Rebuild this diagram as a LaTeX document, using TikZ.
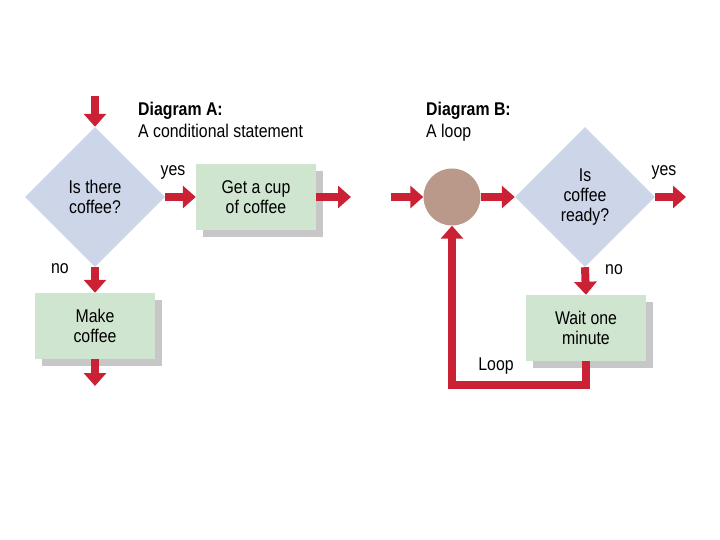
\documentclass[tikz,border=0pt]{standalone}
\usepackage{fontspec}
\setmainfont{Liberation Sans}[FakeStretch=0.86]
\usetikzlibrary{shapes.geometric,arrows.meta,shadows}

\definecolor{askblue}{RGB}{205,213,233}
\definecolor{stepgreen}{RGB}{208,229,207}
\definecolor{loopbrown}{RGB}{187,153,138}
\definecolor{flowred}{RGB}{203,33,52}

\begin{document}
\begin{tikzpicture}[x=1bp,y=-1bp,
    font=\fontsize{18.5}{20}\selectfont,
    ask/.style={diamond,fill=askblue,minimum width=140bp,minimum height=140bp,inner sep=0pt,align=center},
    stepbox/.style={rectangle,fill=stepgreen,minimum width=120bp,minimum height=66bp,align=center,
        drop shadow={shadow xshift=7bp,shadow yshift=-7bp,fill=black!22,opacity=1}},
    flow/.style={draw=flowred,line width=8bp,-{Triangle[width=22bp,length=13bp]}},
    title/.style={anchor=base west,inner sep=0pt,font=\fontsize{18.5}{20}\selectfont\bfseries}]
    \useasboundingbox (0,0) rectangle (720,540);

    % Diagram A
    \node[title] (titleA) at (138,116) {Diagram A:};
    \node[anchor=base west,inner sep=0pt] (subA) at (138,138) {A conditional statement};

    \node[ask] (isthere) at (95,197) {Is there\\coffee?};
    \node[stepbox] (getcup) at (256,197) {Get a cup\\of coffee};
    \node[stepbox] (make) at (95,326) {Make\\coffee};

    \coordinate (inA) at (95,96);
    \coordinate (outA) at (351,197);
    \coordinate (downA) at (95,386);

    \draw[flow] (inA) -- (isthere.north);
    \draw[flow] (isthere.east) -- (getcup.west);
    \draw[flow] (getcup.east) -- (outA);
    \draw[flow] (isthere.south) -- (make.north);
    \draw[flow] (make.south) -- (downA);

    \node (yesA) at (173,172) {yes};
    \node (noA) at (60,269) {no};

    % Diagram B
    \node[title] (titleB) at (426,116) {Diagram B:};
    \node[anchor=base west,inner sep=0pt] (subB) at (426,138) {A loop};

    \node[circle,fill=loopbrown,minimum size=57bp,inner sep=0pt] (join) at (452,197) {};
    \node[ask] (ready) at (585,197) {Is\\coffee\\ready?};
    \node[stepbox] (wait) at (586,328) {Wait one\\minute};

    \coordinate (inB) at (391,197);
    \coordinate (outB) at (686,197);

    \draw[flow] (inB) -- (join.west);
    \draw[flow] (join.east) -- (ready.west);
    \draw[flow] (ready.east) -- (outB);
    \draw[flow] (ready.south) -- (wait.north);
    \draw[flow] (wait.south) -- ++(0,24) -| (join.south);

    \node (yesB) at (664,172) {yes};
    \node (noB) at (614,270) {no};
    \node (loop) at (496,366) {Loop};
\end{tikzpicture}
\end{document}
